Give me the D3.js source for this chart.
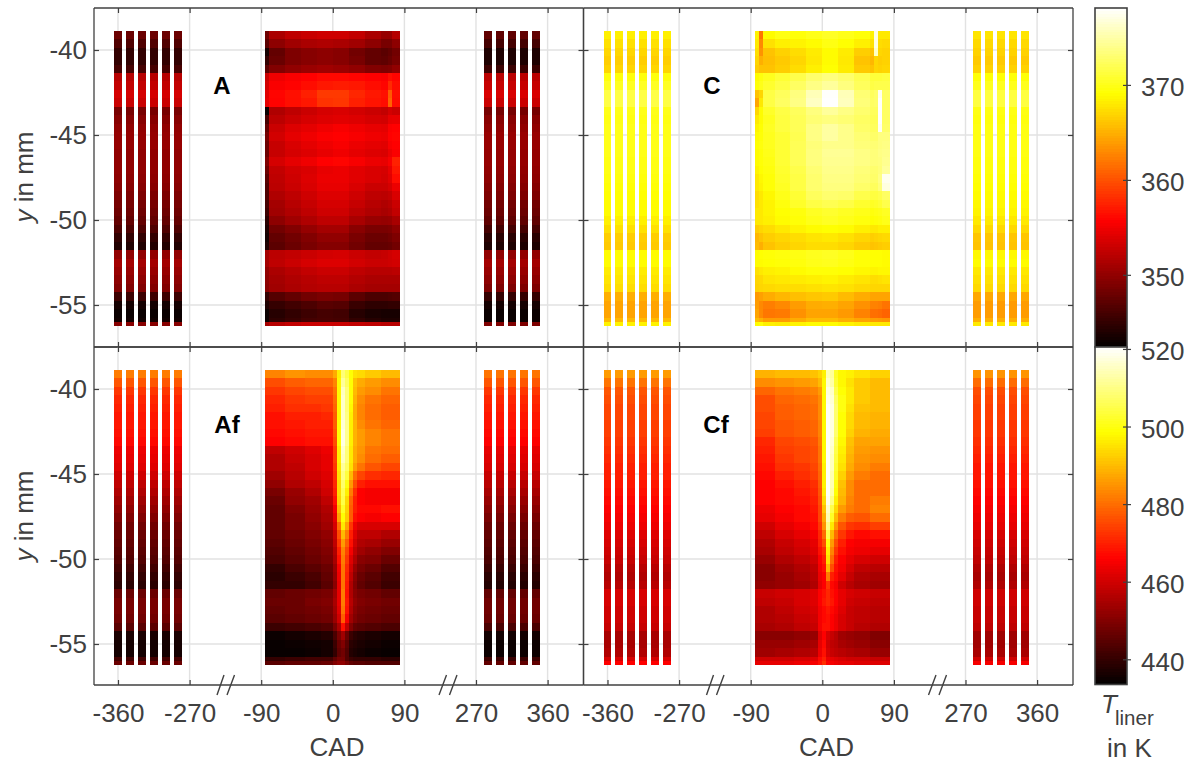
<!DOCTYPE html>
<html><head><meta charset="utf-8">
<style>html,body{margin:0;padding:0;background:#fff}svg{display:block}text{font-family:"Liberation Sans",Arial,sans-serif}</style>
<script src="https://cdn.jsdelivr.net/npm/d3@7/dist/d3.min.js"></script>
</head><body><svg id="c" width="1197" height="762"></svg>
<script>
const xTicks=[-360,-270,-90,0,90,270,360];
const yTicks=[-40,-45,-50,-55];
const cbTop=[350,360,370];
const cbBottom=[440,460,480,500,520];
const domTop=[342.4,378.1];
const domBottom=[433.5,520.5];
const stripesLeft=[-360,-345,-330,-315,-300,-285];
const stripesRight=[285,300,315,330,345];
const rowEdges=[-38.88,-39.38,-39.87,-40.37,-40.86,-41.36,-41.85,-42.35,-42.85,-43.34,-43.84,-44.33,-44.83,-45.33,-45.82,-46.32,-46.81,-47.31,-47.80,-48.30,-48.80,-49.29,-49.79,-50.28,-50.78,-51.28,-51.77,-52.27,-52.76,-53.26,-53.75,-54.25,-54.75,-55.24,-55.74,-56.0,-56.24];
const colsA=[-85,-80,-60,-40,-20,0,20,40,60,70,75,85];
const colsC=[-85,-80,-75,-60,-40,-20,0,20,40,60,65,70,75,85];
const colsAf=[-85,-60,-35,-15,0,5,10,15,20,25,30,40,60,85];
const colsCf=[-85,-60,-35,-15,-5,0,5,10,15,20,30,40,60,85];
const gridA=[
[348.2,351.3,352.4,352.9,353.2,353.2,352.6,351.3,350.3,350.3,351.9],
[347.1,349.8,350.8,351.3,351.6,351.3,350.8,349.8,348.7,348.7,349.8],
[343.5,347.6,349,349.5,349.8,349.5,348.4,347.6,347.1,347.6,348.4],
[345,347.9,349,349.5,349.8,349.5,348.7,347.6,347.4,347.9,348.7],
[347.1,349.2,350,350.5,350.8,350.5,350,349.2,349,349.2,350],
[352.9,355,355.5,355.8,356.2,356.2,356,355.8,355.6,356.5,356],
[353.4,355.5,355.9,356.4,357,357.2,357,356.4,356,358,356.4],
[354.2,356,356.6,357.4,358.8,358.8,357.8,357,356.6,360.5,356.6],
[354.5,355.9,356.5,357,358.4,358.6,357.4,356.8,356.4,361,356.4],
[343,351.6,352.4,353,353.6,353.8,353.4,353,352.6,353.5,353],
[346,352.2,353,353.6,354,354.2,354,353.6,353.4,354.5,354.6],
[347.5,353,354,354.4,355,355.4,355,354.6,354.4,355.6,355.8],
[348.5,353.4,354.4,355,355.6,355.8,355.4,355,354.8,355.8,356],
[348,352.8,353.8,354.4,355,355.4,354.8,354.4,354.2,355.4,355.8],
[348,352.8,353.6,354,354.6,355,354.4,354,353.8,354.8,355.6],
[349,353.6,354.4,355,355.8,356,355.4,354.8,354.6,355.4,357.5],
[348,352.6,353.4,353.8,354.6,354.8,354.2,353.8,353.6,354.6,357],
[347,352.4,353.2,354,354.8,354.8,354.2,353.8,353.4,354.2,356.4],
[346.5,352.2,353,353.8,354.6,354.6,353.8,353,353,353.6,354.8],
[346.5,351.6,352.4,353.2,354,354,353.2,352.4,352.2,352.6,353.8],
[346,351,352,352.8,353.6,353.6,352.8,352,351.6,352,353],
[345.5,350.8,351.6,352.4,353.2,353.2,352.2,351.6,351.2,351.6,352.6],
[344.5,349.8,350.8,351.6,352.4,352.4,351.2,350.4,350.2,350.4,351.2],
[343.8,348.4,349.2,350.2,351,351,349.6,348.8,348.8,349,349.8],
[343.4,347.6,348.4,349.2,350,350,348.8,348,348,348.4,349],
[344,347.2,348,348.8,349.4,349.4,348.4,347.6,347.6,347.8,348.4],
[351,352.2,352.6,353,353.4,353.6,353,352.6,352.8,353.2,353.6],
[351,352.4,353,353.6,354,354,353.4,353,353,353.2,353.4],
[350,351.4,352,352.6,353,353,352.4,352,352,352,352.2],
[349.8,351,351.6,352,352.4,352.4,351.8,351.4,351.4,351.4,351.4],
[349.6,350.8,351.4,351.8,352,352,351.4,351,351,351,351],
[345,346.8,347.6,348.4,348.8,348.6,347.2,346.4,346.4,346.6,346.8],
[344,345.2,345.8,346.4,347,346.8,345.4,344.8,344.8,345,345],
[343,344.4,345,345.6,346,345.8,344.4,343.8,343.6,343.6,343.6],
[343,344.8,345.4,346,346.2,346,345,344.4,344,344,344],
[351,352,352.6,353,353,353,352.6,352.4,352,352,352]];
const gridC=[
[368.5,362,369,369.8,369.5,370,370.5,370,369.5,368.5,377,368,368],
[368,363,367.6,368.4,368.6,369,369.8,369.2,368.4,367.6,377,367.4,367.2],
[367.5,363.5,366,366.8,367.4,368.2,369,368.2,366.6,366,376,367,366.8],
[367,365,365.8,366.4,367,368,369,368,366,365.4,367,366.6,366.8],
[366.6,366,366,366.6,367.4,368.4,369.2,368.2,366.4,366,367,366.8,367],
[369,369.6,370.2,371,371.8,373,373.6,373,372,371.2,371.2,371.2,371.4],
[369.5,370,370.8,371.6,372.6,373.8,374.6,373.6,372.4,371.6,371.8,371.8,371.8],
[366,367,371.6,372.4,373.6,375.6,378,375.6,373.2,372.4,372.8,377.5,372.6],
[364.5,368,371.6,372.6,373.8,376,378.1,375.8,373.4,372.6,372.8,378,372.6],
[367,369,370.6,371.6,372.4,373.6,374.6,373.8,373,372.4,372.4,378,372.6],
[368,369,370.2,371.4,372.2,373.2,373.6,373.2,372.6,372.2,372.2,378,372.6],
[368.6,369.2,370.4,371.4,372.2,373.8,374.8,374,372.8,372.4,372.4,377.5,372.8],
[369,369.4,370.2,371,372,373.8,374.8,374,373.2,372.8,372.8,373.6,373.6],
[369.2,369.6,370.2,371,372.2,373.4,374,374,373.4,373.2,373.2,373.6,373.8],
[369,369.4,370,371,372.2,373.6,374.4,374.4,373.8,373.4,373.4,373.8,374],
[369,369.4,369.8,371,372.2,373.6,374.2,374.2,373.8,373.4,373.4,373.6,374.2],
[368.6,369.2,369.6,370.8,371.8,373.2,374,374,373.4,373,373,373.4,374.6],
[368,368.8,369.4,370.6,371.6,373,373.8,373.8,373.2,372.8,372.8,373.8,377.5],
[368,368.6,369.4,370.4,371.6,373,373.6,373.6,372.8,372.4,372.4,373.4,377],
[367.4,368,368.8,370,371,372.4,373,372.8,371.8,371.4,371.4,371.8,372.6],
[367.6,368,368.6,369.6,370.6,371.6,372,371.6,370.8,370.4,370.6,371,371.8],
[368,368,368.6,369.2,369.6,370.4,370.8,370.4,370,369.6,369.8,370,370.4],
[368,368,368.4,369,369.4,370,370.4,370,369.6,369.2,369.4,369.6,370],
[366.6,367,367.4,368,368.6,369,369.2,369,368.4,368,368,368.4,368.4],
[365.4,366,366.6,367,367.4,367.8,368,367.6,367,366.6,366.8,367,367.2],
[365.6,365,366,366.6,367,367.4,367.4,367,366.4,366,366.2,366.4,366.6],
[369,369.2,369.4,369.6,369.8,370.2,370.4,370,369.4,369.2,369.2,369.2,369],
[369,369,369.2,369.4,369.6,370,370.2,369.8,369.4,369.2,369.2,369.2,369],
[367.6,368,368.4,368.6,369,369.4,369.4,369.2,368.8,368.6,368.6,368.8,368.8],
[367,367.2,367.8,368,368.2,368.4,368.6,368.2,367.8,367.4,367.4,367.6,367.8],
[366.8,367,367.2,367.4,367.4,367.6,367.8,367.6,367.2,367,367,367,367],
[363.8,364.2,364.8,365.4,365.8,366.2,366.4,365.6,364.8,364.4,364.4,364.4,364.4],
[364,363,362.4,363,364,364.8,365,364.4,363.4,362.6,362.6,362.4,361.8],
[364.4,363,362,362.2,363.4,364.4,364.4,363.8,362.6,361.6,361.6,361.4,361],
[365.6,365,364,364,364.8,365.6,365.6,365,364.4,364,364,363.8,363.6],
[369,369.4,368.4,368.2,368.6,369,369,368.6,368.2,368,368,368,368]];
const gridAf=[
[483,485,484,484,488,497,509,505,499,495,494,492,490],
[476,478,479,479,483,498,512,507,499,491,488,486,484],
[473,475,476,476,481,498,515,509,499,490,486,484,481],
[471,473,474,474,480,498,516,509,499,489,484,481,479],
[470,472,472,473,479,498,516,509,498,488,483,480,478],
[468,470,470,471,478,498,516,510,497,488,483,480,478],
[468,469,470,470,478,499,517,511,497,489,484,481,479],
[467,468,469,469,477,499,518,511,497,489,486,483,481],
[466,467,468,468,476,499,518,511,497,489,486,483,481],
[458,460,462,464,474,497,516,509,496,488,485,481,480],
[456,459,461,463,474,497,515,509,496,488,484,480,478],
[456,458,461,463,473,496,512,507,495,486,481,477,475],
[454,457,460,462,472,495,510,504,490,480,475,472,471],
[452,456,458,461,471,494,508,500,486,476,470,468,468],
[449,453,456,460,470,494,506,497,482,472,466,465,465],
[447,452,454,458,468,493,505,494,479,470,466,465,465],
[446,450,453,456,465,490,502,493,478,470,467,467,468],
[446,449,452,455,463,487,499,492,478,468,466,465,466],
[446,449,451,454,461,480,496,487,473,464,461,461,461],
[446,448,450,452,459,476,490,482,470,462,458,458,456],
[445,447,449,451,458,473,486,478,468,460,456,455,453],
[444,446,448,450,456,470,483,475,465,458,454,452,450],
[443,445,447,449,455,468,482,473,462,456,451,450,447],
[440,443,445,447,453,465,481,471,460,453,449,447,444],
[439,441,443,446,452,464,481,470,458,451,447,445,442],
[440,440,442,445,451,463,481,469,456,450,446,444,441],
[446,447,448,449,454,463,482,468,456,451,449,448,446],
[447,447,449,450,455,463,482,469,457,452,450,449,448],
[446,447,448,449,454,462,481,468,456,451,449,448,447],
[445,446,447,448,453,460,478,465,454,450,448,447,446],
[441,442,443,444,449,455,468,458,450,446,445,444,443],
[435,436,437,438,443,449,454,447,441,439,438,437,436],
[434.5,435,435.5,436,441,447,450,445,439,438,437,436,435],
[434.5,434.5,435,436,440,446,448,444,438,437,436,435,434.5],
[440,441,442,442,446,449,449,444,441,440,440,440,439],
[445,446,446,447,450,452,452,449,446,445,445,444,444]];
const gridCf=[
[489,490,490,491,493,497,514,512,502,498,497,495,493],
[484,485,486,487,490,498,516,513,503,498,495,492,490],
[479,481,482,483,486,498,518,516,505,499,496,492,490],
[476,479,480,481,484,498,519,517,507,500,496,492,490],
[476,478,479,480,484,498,520,518,508,500,495,491,490],
[475,478,479,480,484,498,520,518,508,499,494,490,489],
[475,477,478,479,483,498,520,518,508,499,494,490,489],
[474,477,478,479,483,498,520,518,508,499,493,489,488],
[471,475,476,477,482,498,520,517,506,498,491,487,487],
[470,474,475,476,481,498,520,516,505,497,490,486,485],
[469,473,475,476,481,498,520,515,504,496,489,485,484],
[468,472,473,475,480,497,520,515,503,495,488,484,482],
[467,470,472,474,479,497,520,514,502,493,486,482,480],
[466,468,470,472,478,497,520,514,500,491,484,480,480],
[466,467,469,471,477,496,520,513,499,490,484,480,480],
[466,467,468,470,476,494,519,510,497,489,483,480,482],
[464,466,467,469,475,491,516,505,494,486,482,480,483],
[463,465,467,468,475,488,514,502,490,482,478,477,480],
[460,463,465,467,473,485,510,496,485,477,473,472,474],
[458,461,463,465,471,480,505,490,480,473,469,467,468],
[456,459,461,463,470,476,500,486,476,470,466,465,465],
[455,458,460,462,468,472,497,483,473,468,465,464,463],
[453,456,458,460,466,470,495,480,470,466,463,461,460],
[451,454,456,458,465,468,490,476,468,465,461,458,457],
[451,453,455,457,464,466,482,470,467,463,459,456,455],
[452,453,454,456,463,466,473,467,465,460,457,455,454],
[459,460,461,462,466,468,471,468,466,463,461,460,459],
[458,459,461,462,466,469,471,469,466,463,460,459,458],
[456,458,460,461,465,467,469,467,465,462,459,458,457],
[456,457,459,460,465,467,468,466,464,461,459,458,457],
[455,456,458,459,465,468,468,466,464,461,459,457,456],
[451,451,452,453,462,466,461,459,457,454,453,452,450],
[453,453,454,455,463,467,460,458,457,455,454,453,451],
[454,455,456,457,464,468,461,459,458,457,456,455,453],
[460,460,461,462,467,470,464,463,462,461,460,460,459],
[463,463,464,465,468,472,466,465,464,463,463,462,462]];
const profALeft=[348,346.6,345,345,346,352,352.6,353.6,353,348.7,349.5,350,350.2,350.3,350,350,350,349.8,349.5,349,348.6,348.2,347.6,346.5,345,344.2,350,351,350.4,349.8,349.2,345.6,343.5,343,343.3,349.5];
const profARight=[347.5,346,344,344,345.5,352.2,352.8,353.8,353,348.6,349.6,350,350.4,350.4,350.2,350.2,350,349.8,349.4,349,348.4,348,347.4,346,344.6,344,350,351,350.4,349.8,349,345.2,343.5,343,343,349];
const profCLeft=[368.4,367.6,367,366.6,367,369.6,370.4,371.6,371.6,370,369.8,370,370,370,370,369.8,369.8,369.6,369.4,369.2,369,369,368.4,367.6,366.6,366.4,369,369,368.2,367.8,367.4,365,364.4,364.4,365.5,368.5];
const profCRight=[367.8,367.2,366.8,366.4,366.8,369.4,370.2,371.4,371.4,369.8,369.6,369.8,369.8,369.8,369.8,369.6,369.6,369.4,369.2,369,368.8,368.6,368,367.2,366.2,366,368.8,369,368,367.6,367.2,364.6,364,364,365,368];
const profAfLeft=[482,477,473,471,470,469,469,468,467,464,463,462,460,458,456,454,452,450,448,447,446,445,444,442,440,439,447,449,449,448,445,437,436,436,442,447];
const profAfRight=[481,477,473,471,470,469,468,467,466,463,462,461,459,457,455,453,451,449,447,446,445,444,443,441,439,438,446,448,448,447,443,436,435,435,441,446];
const profCfLeft=[486,481,477,476,475,475,474,474,473,472,471,470,470,469,468,467,466,465,464,462,461,460,459,457,456,457,461,461,460,460,459,455,455,456,461,466];
const profCfRight=[485,480,476,475,474,474,473,473,472,471,470,469,469,468,467,466,465,464,463,461,460,459,458,456,455,456,460,460,459,459,458,454,454,455,460,465];

const INK="#404040";
const stops=[0,.375,.75,1], hotCols=["#000000","#ff0000","#ffff00","#ffffff"];
const hot=dom=>d3.scaleLinear().domain(stops.map(s=>dom[0]+s*(dom[1]-dom[0]))).range(hotCols).clamp(true);
const svg=d3.select("#c");
const xRangeBase=[118,189.6,261.2,332.8,404.4,476,547.6];
const panels=[
 {name:"A",dx:0,dy:0,cols:colsA,grid:gridA,left:profALeft,right:profARight,dom:domTop,lx:222,ly:85},
 {name:"C",dx:489.5,dy:0,cols:colsC,grid:gridC,left:profCLeft,right:profCRight,dom:domTop,lx:712,ly:85},
 {name:"Af",dx:0,dy:339,cols:colsAf,grid:gridAf,left:profAfLeft,right:profAfRight,dom:domBottom,lx:227,ly:424},
 {name:"Cf",dx:489.5,dy:339,cols:colsCf,grid:gridCf,left:profCfLeft,right:profCfRight,dom:domBottom,lx:716,ly:424}];
const pW=489.5;
function styleAxis(g,showLabels){
 g.select(".domain").attr("stroke",INK).attr("stroke-width",1.3);
 g.selectAll(".tick line").attr("stroke",INK).attr("stroke-width",1.2);
 g.selectAll("text").attr("fill",INK).attr("font-size",26).attr("font-family",'"Liberation Sans",Arial,sans-serif');
 if(!showLabels) g.selectAll("text").remove();
}
panels.forEach(p=>{
 const x=d3.scaleLinear().domain(xTicks).range(xRangeBase.map(v=>v+p.dx));
 const y=d3.scaleLinear().domain([-40,-55]).range([50+p.dy,305+p.dy]);
 const L=94+p.dx,R=L+pW,T=8+p.dy,B=T+(p.dy?338:339);
 const color=hot(p.dom);
 const g=svg.append("g");
 g.append("g").selectAll("line").data(xTicks).join("line").attr("x1",d=>x(d)).attr("x2",d=>x(d)).attr("y1",T).attr("y2",B).attr("stroke","#e2e2e2").attr("stroke-width",1.4);
 g.append("g").selectAll("line").data(yTicks).join("line").attr("x1",L).attr("x2",R).attr("y1",d=>y(d)).attr("y2",d=>y(d)).attr("stroke","#e2e2e2").attr("stroke-width",1.4);
 const cells=[];
 p.grid.forEach((row,i)=>row.forEach((v,j)=>cells.push({x0:p.cols[j],x1:p.cols[j+1],y0:rowEdges[i],y1:rowEdges[i+1],v})));
 stripesLeft.forEach(c=>p.left.forEach((v,i)=>cells.push({x0:c-5,x1:c+5,y0:rowEdges[i],y1:rowEdges[i+1],v})));
 stripesRight.forEach(c=>p.right.forEach((v,i)=>cells.push({x0:c-5,x1:c+5,y0:rowEdges[i],y1:rowEdges[i+1],v})));
 g.append("g").attr("shape-rendering","crispEdges").selectAll("rect").data(cells).join("rect")
  .attr("x",d=>x(d.x0)).attr("y",d=>y(d.y0)).attr("width",d=>x(d.x1)-x(d.x0)).attr("height",d=>y(d.y1)-y(d.y0)).attr("fill",d=>color(d.v));
 const isBottom=p.dy>0,isLeft=p.dx===0;
 const ax=g.append("g").attr("transform",`translate(0,${B})`).call(d3.axisBottom(x).tickValues(xTicks).tickSizeInner(-5).tickSizeOuter(0).tickPadding(18.5).tickFormat(d=>String(d)));
 styleAxis(ax,isBottom);
 ax.select(".domain").attr("d",`M${L},0H${R}`);
 const at=g.append("g").attr("transform",`translate(0,${T})`).call(d3.axisTop(x).tickValues(xTicks).tickSizeInner(-5).tickSizeOuter(0).tickFormat(""));
 styleAxis(at,false);
 at.select(".domain").attr("d",`M${L},0H${R}`);
 const ay=g.append("g").attr("transform",`translate(${L},0)`).call(d3.axisLeft(y).tickValues(yTicks).tickSizeInner(-5).tickSizeOuter(0).tickPadding(7).tickFormat(d=>String(d)));
 styleAxis(ay,isLeft);
 ay.select(".domain").attr("d",`M0,${T}V${B}`);
 const ar=g.append("g").attr("transform",`translate(${R},0)`).call(d3.axisRight(y).tickValues(yTicks).tickSizeInner(-5).tickSizeOuter(0).tickFormat(""));
 styleAxis(ar,false);
 ar.select(".domain").attr("d",`M0,${T}V${B}`);
 g.append("text").attr("x",p.lx).attr("y",p.ly+8.5).attr("text-anchor","middle").attr("font-weight","bold").attr("font-size",24).attr("fill","#000").text(p.name);
 if(isBottom){
  [[217,223],[227,233.5],[439,445.5],[449.5,456]].forEach(([a,b])=>{
   g.append("line").attr("x1",a+p.dx).attr("y1",695).attr("x2",b+p.dx+1).attr("y2",675).attr("stroke",INK).attr("stroke-width",1.4);
  });
  g.append("text").attr("x",337+p.dx).attr("y",756).attr("text-anchor","middle").attr("font-size",26).attr("fill",INK).text("CAD");
 }
 if(isLeft){
  const t=g.append("text").attr("transform",`translate(33,${177+p.dy}) rotate(-90)`).attr("text-anchor","middle").attr("font-size",26).attr("fill",INK);
  t.append("tspan").attr("font-style","italic").text("y");
  t.append("tspan").text(" in mm");
 }
});
[[domTop,cbTop,8,347],[domBottom,cbBottom,347,684.5]].forEach(([dom,ticks,t,b])=>{
 const color=hot(dom);
 const y=d3.scaleLinear().domain(dom).range([b,t]);
 const g=svg.append("g");
 const step=(dom[1]-dom[0])/128;
 const lev=d3.range(128).map(i=>dom[0]+i*step);
 g.append("g").attr("shape-rendering","crispEdges").selectAll("rect").data(lev).join("rect")
  .attr("x",1095).attr("width",32).attr("y",d=>y(d+step)).attr("height",d=>y(d)-y(d+step)+.6).attr("fill",d=>color(d+step/2));
 g.append("rect").attr("x",1095).attr("y",t).attr("width",32).attr("height",b-t).attr("fill","none").attr("stroke",INK).attr("stroke-width",1.6);
 const a=g.append("g").attr("transform","translate(1127,0)").call(d3.axisRight(y).tickValues(ticks).tickSizeInner(4).tickSizeOuter(0).tickPadding(10).tickFormat(d=>String(d)));
 styleAxis(a,true);
 a.select(".domain").remove();
 a.selectAll(".tick line").attr("x1",-4).attr("x2",4);
 a.selectAll("text").attr("dy","0.42em");
});
const tl=svg.append("g").attr("fill",INK);
tl.append("text").attr("x",1101).attr("y",713).attr("font-size",26).attr("font-style","italic").text("T");
tl.append("text").attr("x",1115).attr("y",725).attr("font-size",20.5).text("liner");
tl.append("text").attr("x",1107).attr("y",757).attr("font-size",26).text("in K");
</script></body></html>
